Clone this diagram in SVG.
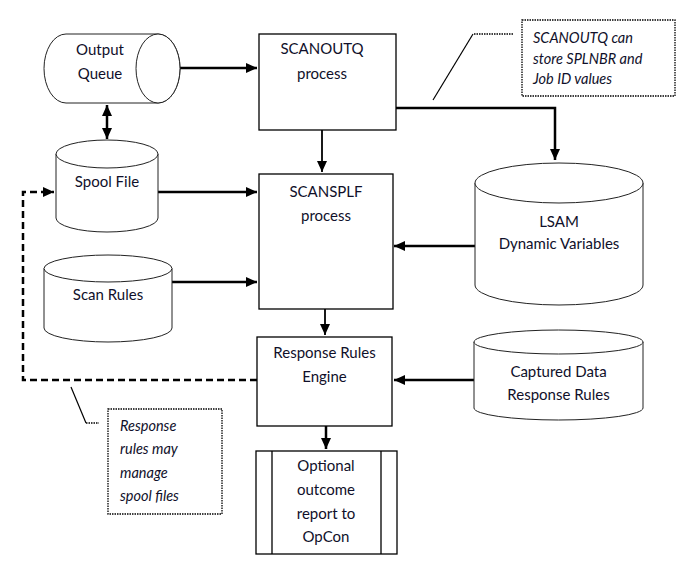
<svg xmlns="http://www.w3.org/2000/svg" width="687" height="582" viewBox="0 0 687 582">
<defs>
<marker id="ah" markerUnits="userSpaceOnUse" markerWidth="12" markerHeight="10" refX="11" refY="5" orient="auto-start-reverse"><path d="M0,0 L11,5 L0,10 Z" fill="#000"/></marker>
</defs>
<style>
.box{fill:#fff;stroke:#000;stroke-width:1.3}
.cyl{fill:#fff;stroke:#222;stroke-width:1}
.t{font-family:Lato,"Liberation Sans",sans-serif;font-size:15px;fill:#10102a;text-anchor:middle}
.it{font-family:Lato,"Liberation Sans",sans-serif;font-size:14.5px;font-style:italic;fill:#10102a}
.c{fill:none;stroke:#000;stroke-width:2.5}
.thin{fill:none;stroke:#000;stroke-width:1.8}
.dash{fill:none;stroke:#000;stroke-width:2.5;stroke-dasharray:7,4}
.note{fill:#fff;stroke:#000;stroke-width:1.3;stroke-dasharray:1.5,1}
.lead{fill:none;stroke:#000;stroke-width:1.2}
.leadd{fill:none;stroke:#000;stroke-width:1.3;stroke-dasharray:1.5,1}
</style>
<g id="connectors">
<path class="c" d="M180,68 H257" marker-end="url(#ah)"/>
<path class="c" d="M107,105 V139" marker-start="url(#ah)" marker-end="url(#ah)"/>
<path class="c" d="M396,108 H555 V160" marker-end="url(#ah)"/>
<path class="thin" d="M322,130 V172" marker-end="url(#ah)"/>
<path class="c" d="M158,192 H257" marker-end="url(#ah)"/>
<path class="c" d="M172,282 H257" marker-end="url(#ah)"/>
<path class="c" d="M475,246 H394" marker-end="url(#ah)"/>
<path class="c" d="M474,380 H394" marker-end="url(#ah)"/>
<path class="thin" d="M325,309 V335" marker-end="url(#ah)"/>
<path class="c" d="M326,426 V449" marker-end="url(#ah)"/>
<path class="dash" d="M257,380 H23 V192 H54" marker-end="url(#ah)"/>
</g>
<g id="output-queue">
<path class="cyl" d="M66,34 H158 A22,34.5 0 0 1 158,103 H66 A22,34.5 0 0 1 66,34 Z"/>
<ellipse class="cyl" cx="158" cy="68.5" rx="22" ry="34.5"/>
<text class="t" x="100" y="55">Output</text>
<text class="t" x="100" y="79">Queue</text>
</g>
<g id="scanoutq">
<rect class="box" x="259" y="34" width="137" height="96"/>
<text class="t" x="322" y="54">SCANOUTQ</text>
<text class="t" x="322" y="79">process</text>
</g>
<g id="note-scanoutq">
<path class="leadd" d="M513,34 H473"/>
<path class="lead" d="M473,34 L433,100"/>
<rect class="note" x="522" y="20" width="153" height="76"/>
<text class="it" x="533" y="43">SCANOUTQ can</text>
<text class="it" x="533" y="64">store SPLNBR and</text>
<text class="it" x="533" y="84">Job ID values</text>
</g>
<g id="spool-file">
<path class="cyl" d="M56,154 V218 A51,14 0 0 0 158,218 V154"/>
<ellipse class="cyl" cx="107" cy="154" rx="51" ry="14"/>
<text class="t" x="107" y="187">Spool File</text>
</g>
<g id="scan-rules">
<path class="cyl" d="M44,268.5 V328 A64,14 0 0 0 172,328 V268.5"/>
<ellipse class="cyl" cx="108" cy="268.5" rx="64" ry="13.5"/>
<text class="t" x="108" y="300">Scan Rules</text>
</g>
<g id="scansplf">
<rect class="box" x="259" y="174" width="134" height="135"/>
<text class="t" x="326" y="197">SCANSPLF</text>
<text class="t" x="326" y="221">process</text>
</g>
<g id="lsam">
<path class="cyl" d="M475,183 V285 A84,20 0 0 0 643,285 V183"/>
<ellipse class="cyl" cx="559" cy="183" rx="84" ry="20"/>
<text class="t" x="559" y="227">LSAM</text>
<text class="t" x="559" y="249">Dynamic Variables</text>
</g>
<g id="captured-data">
<path class="cyl" d="M474,342 V408 A84.5,12 0 0 0 643,408 V342"/>
<ellipse class="cyl" cx="558.5" cy="342" rx="84.5" ry="12"/>
<text class="t" x="558.5" y="377">Captured Data</text>
<text class="t" x="558.5" y="400">Response Rules</text>
</g>
<g id="response-rules-engine">
<rect class="box" x="257" y="337" width="135" height="89"/>
<text class="t" x="324.5" y="358">Response Rules</text>
<text class="t" x="324.5" y="382">Engine</text>
</g>
<g id="optional-report">
<rect class="box" x="256" y="451" width="141" height="103"/>
<path class="box" d="M272,451 V554 M381,451 V554"/>
<text class="t" x="326" y="471">Optional</text>
<text class="t" x="326" y="495">outcome</text>
<text class="t" x="326" y="519">report to</text>
<text class="t" x="326" y="542">OpCon</text>
</g>
<g id="note-response">
<path class="lead" d="M71,387 L86,423"/>
<path class="leadd" d="M86,423 H99"/>
<rect class="note" x="108" y="409" width="114" height="105"/>
<text class="it" x="120" y="431">Response</text>
<text class="it" x="120" y="454">rules may</text>
<text class="it" x="120" y="478">manage</text>
<text class="it" x="120" y="501">spool files</text>
</g>
</svg>
